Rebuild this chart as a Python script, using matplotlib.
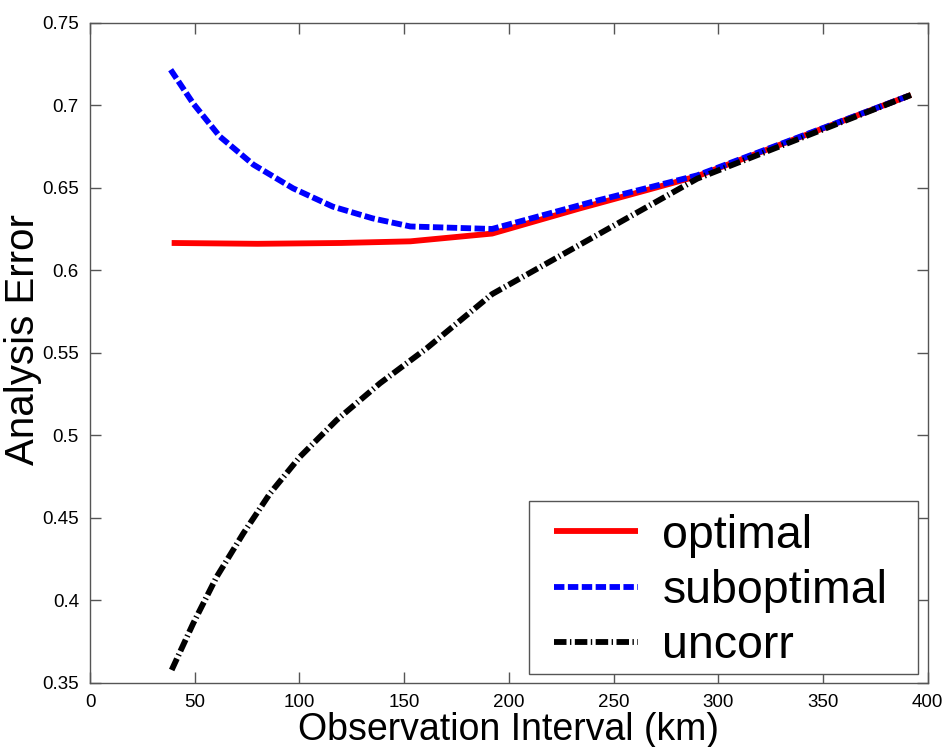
import matplotlib
matplotlib.use("Agg")
import matplotlib.pyplot as plt
from matplotlib.patches import Rectangle

plt.rcParams['font.family'] = ['Liberation Sans', 'DejaVu Sans']
plt.rcParams['lines.scale_dashes'] = False

# Data
x_opt = [39, 80, 120, 153, 192, 234, 266, 290, 392]
y_opt = [0.6165, 0.6160, 0.6165, 0.6175, 0.6222, 0.6375, 0.6486, 0.6570, 0.7062]

x_sub = [38.5, 49.3, 62, 78, 97, 116, 135, 153, 192, 240, 290, 392]
y_sub = [0.7215, 0.7010, 0.6810, 0.6640, 0.6496, 0.6385, 0.6314, 0.6265, 0.6250, 0.6415, 0.6575, 0.7062]

x_unc = [39, 49.3, 60.5, 73.2, 86, 100.3, 117.8, 138.5, 160.8, 192, 290, 392]
y_unc = [0.3577, 0.3860, 0.4142, 0.4405, 0.4648, 0.4870, 0.5092, 0.5315, 0.5527, 0.5855, 0.6555, 0.7062]

labels = ['optimal', 'suboptimal', 'uncorr']
xticks = [0, 50, 100, 150, 200, 250, 300, 350, 400]
yticks = [0.35, 0.4, 0.45, 0.5, 0.55, 0.6, 0.65, 0.7, 0.75]
ytick_labels = ['0.35', '0.4', '0.45', '0.5', '0.55', '0.6', '0.65', '0.7', '0.75']

fig = plt.figure(figsize=(9.44, 7.47), dpi=100)
ax = fig.add_axes([90/944, 1-682.7/747, 837.7/944, 660/747])

lw = 4.2
ax.plot(x_opt, y_opt, color='#ff0000', lw=lw, solid_capstyle='butt', label=labels[0])
ax.plot(x_sub, y_sub, color='#0000ff', lw=lw, linestyle=(0, (7.5, 2.5)), dash_capstyle='butt', label=labels[1])
ax.plot(x_unc, y_unc, color='#000000', lw=lw, linestyle=(0, (9, 2.5, 1, 2.5)), dash_capstyle='butt', label=labels[2])

ax.set_xlim(0, 400)
ax.set_ylim(0.35, 0.75)
ax.set_xticks(xticks)
ax.set_xticklabels([str(t) for t in xticks])
ax.set_yticks(yticks)
ax.set_yticklabels(ytick_labels)
ax.tick_params(direction='in', length=8, width=1, color='#555555', labelsize=13.5,
               top=True, right=True, pad=8)
for s in ax.spines.values():
    s.set_color('#555555')
    s.set_linewidth(1.0)

ax.set_xlabel('Observation Interval (km)', fontsize=27, labelpad=1)
ax.set_ylabel('Analysis Error', fontsize=29)
ax.yaxis.set_label_coords(-0.057, 0.52)

# legend box (drawn as its own frame) and content
box = Rectangle((0.524, 0.0127), 0.464, 0.2625, transform=ax.transAxes,
                facecolor='white', edgecolor='#555555', lw=1.0, zorder=4)
ax.add_patch(box)
leg = ax.legend(loc='upper left', bbox_to_anchor=(0.554, 0.256), borderaxespad=0,
                fontsize=33.5, handlelength=1.8, handletextpad=0.53, labelspacing=0.24,
                borderpad=0.0, frameon=False)
leg.set_zorder(5)

fig.savefig('out.png', dpi=100)
